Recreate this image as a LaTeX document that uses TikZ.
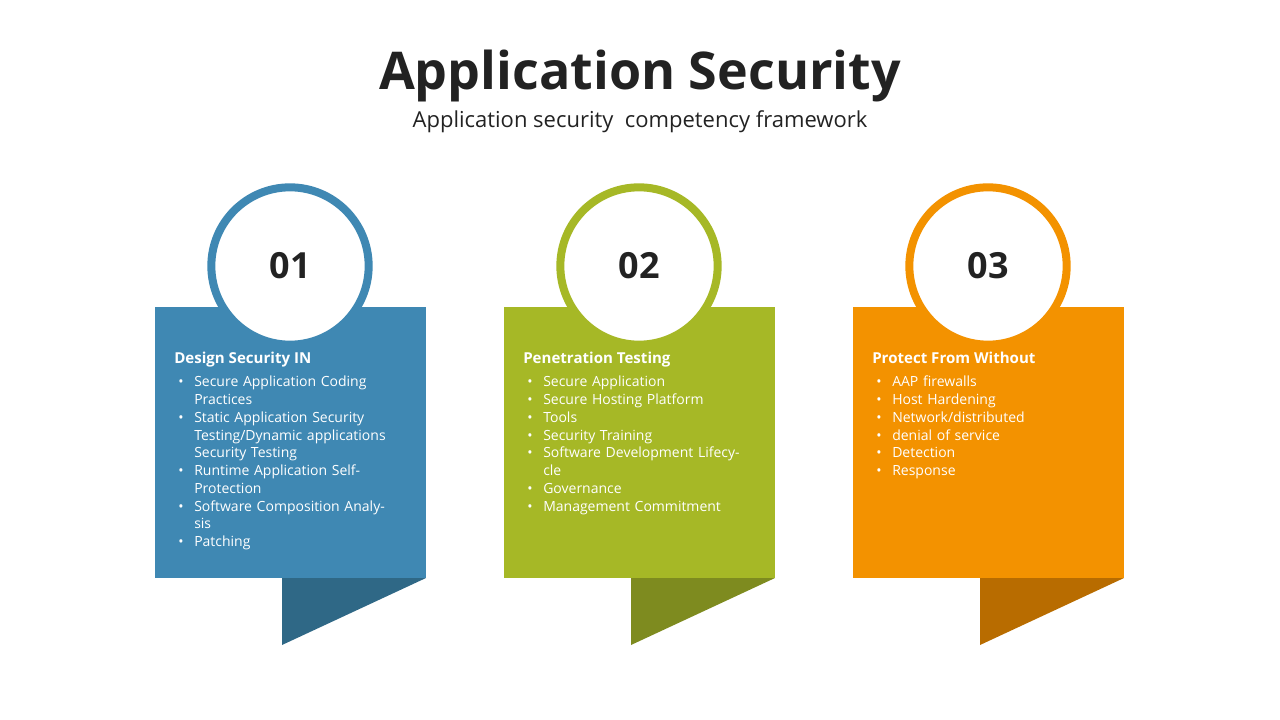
\documentclass[tikz,border=0pt]{standalone}
\usepackage{fontspec}
\setmainfont{Open Sans}
\definecolor{cb}{HTML}{3F88B3}\definecolor{cbd}{HTML}{2F6886}
\definecolor{cg}{HTML}{A6B826}\definecolor{cgd}{HTML}{7E8B1F}
\definecolor{co}{HTML}{F39200}\definecolor{cod}{HTML}{B86C00}
\definecolor{tx}{HTML}{222222}
\tikzset{
 card/.style={inner sep=0pt},
 ring/.style={circle,draw=#1,line width=6pt,fill=white,minimum size=118pt,inner sep=0pt,font=\fontsize{27}{27}\selectfont\bfseries,text=tx},
 head/.style={anchor=north west,text=white,font=\fontsize{11.3}{13}\selectfont\bfseries,inner sep=0pt},
 blist/.style={anchor=north west,text=white,font=\fontsize{10.5}{13.3}\selectfont,inner sep=0pt,text width=165pt,align=left}
}
\newcommand{\bl}[1]{\hangindent=13.5pt\hangafter=1\makebox[13.5pt][l]{\hspace{1.5pt}•}#1\par}
\begin{document}
\begin{tikzpicture}[x=0.75pt,y=-0.75pt]
\useasboundingbox (0,0) rectangle (1280,720);
\node[font=\fontsize{39}{39}\selectfont\bfseries,text=tx] (title) at (640,76) {Application Security};
\node[font=\fontsize{16.5}{18}\selectfont,text=tx] (sub) at (640,122) {Application security\ \ competency framework};
\foreach \x/\c/\d/\n in {155/cb/cbd/01,504/cg/cgd/02,853/co/cod/03}{
  \fill[\d] (\x+127,578) -- (\x+271,578) -- (\x+127,645) -- cycle;
  \fill[\c] (\x,307) rectangle (\x+271,578);
  \fill[black,opacity=0.12] (\x+136,268) circle (63);
  \node[ring=\c] (c\n) at (\x+135,266) {\n};
}
\node[head] (h1) at (174,352) {Design Security IN};
\node[blist] (l1) at (176,376) {\bl{Secure Application Coding Practices}\bl{Static Application Security Testing/Dynamic applications Security Testing}\bl{Runtime Application Self-Protection}\bl{Software Composition Analysis}\bl{Patching}};
\node[head] (h2) at (523,352) {Penetration Testing};
\node[blist] (l2) at (525,376) {\bl{Secure Application}\bl{Secure Hosting Platform}\bl{Tools}\bl{Security Training}\bl{Software Development Lifecycle}\bl{Governance}\bl{Management Commitment}};
\node[head] (h3) at (872,352) {Protect From Without};
\node[blist] (l3) at (874,376) {\bl{AAP firewalls}\bl{Host Hardening}\bl{Network/distributed}\bl{denial of service}\bl{Detection}\bl{Response}};
\end{tikzpicture}
\end{document}
